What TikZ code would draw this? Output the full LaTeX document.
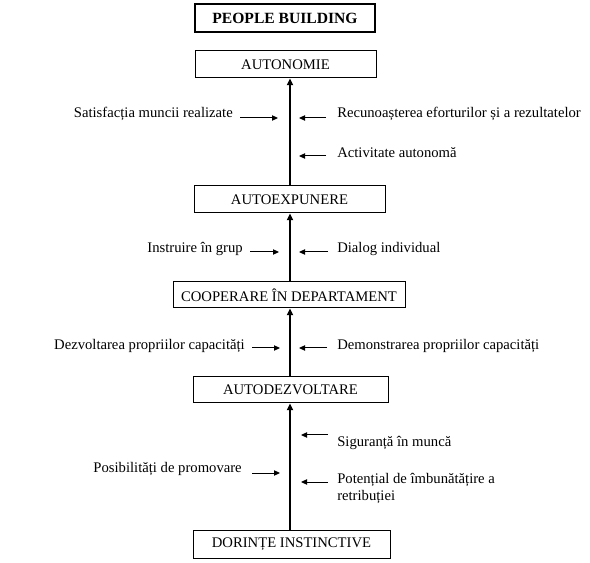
\documentclass[tikz,border=0pt]{standalone}
\usepackage{fontspec}
\setmainfont{Liberation Serif}
\usetikzlibrary{arrows.meta}
\begin{document}
\begin{tikzpicture}[x=0.75pt,y=-0.75pt,
  box/.style={draw, line width=0.75pt, inner sep=0pt, font=\fontsize{11}{13}\selectfont},
  titlebox/.style={draw, line width=1.5pt, inner sep=0pt, font=\bfseries\fontsize{11.7}{13}\selectfont},
  lbl/.style={inner sep=0pt, font=\fontsize{11}{13}\selectfont},
  mainarrow/.style={line width=1.6pt, -{Triangle[length=5pt,width=4.5pt]}},
  smallarrow/.style={line width=0.75pt, -{Triangle[length=4.5pt,width=4pt]}}]
\useasboundingbox (0,0) rectangle (590,563);

% boxes
\node[titlebox, minimum width=180*0.75pt, minimum height=28*0.75pt] (title) at (285,18) {PEOPLE BUILDING};
\node[box, minimum width=181*0.75pt, minimum height=27*0.75pt] (aut) at (285.5,64.5) {AUTONOMIE};
\node[box, minimum width=191*0.75pt, minimum height=27*0.75pt] (aexp) at (289.5,199.5) {AUTOEXPUNERE};
\node[box, minimum width=232*0.75pt, minimum height=26*0.75pt] (coop) at (289,295) {COOPERARE ÎN DEPARTAMENT};
\node[box, minimum width=195*0.75pt, minimum height=26*0.75pt] (adz) at (290.5,390) {AUTODEZVOLTARE};
\node[box, minimum width=197*0.75pt, minimum height=28*0.75pt] (dor) at (291.5,544) {DORINȚE INSTINCTIVE};

% main axis
\coordinate (lx) at (290,0);
\draw[mainarrow] (dor.north -| lx) -- (adz.south -| lx);
\draw[mainarrow] (adz.north -| lx) -- (coop.south -| lx);
\draw[mainarrow] (coop.north -| lx) -- (aexp.south -| lx);
\draw[mainarrow] (aexp.north -| lx) -- (aut.south -| lx);

% labels
\node[lbl, anchor=base east] (l1) at (233,118) {Satisfacția muncii realizate};
\node[lbl, anchor=base west] (r1) at (337,118) {Recunoașterea eforturilor și a rezultatelor};
\node[lbl, anchor=base west] (r2) at (337,158) {Activitate autonomă};
\node[lbl, anchor=base east] (l2) at (243,253) {Instruire în grup};
\node[lbl, anchor=base west] (r3) at (337,253) {Dialog individual};
\node[lbl, anchor=base east] (l3) at (245,350) {Dezvoltarea propriilor capacități};
\node[lbl, anchor=base west] (r4) at (337,350) {Demonstrarea propriilor capacități};
\node[lbl, anchor=base west] (r5) at (337,446) {Siguranță în muncă};
\node[lbl, anchor=base east] (l4) at (242,473) {Posibilități de promovare};
\node[lbl, anchor=west, align=left, font=\fontsize{11}{12.75}\selectfont] (r6) at (337,488) {Potențial de îmbunătățire a\\retribuției};

% small arrows
\coordinate (a1s) at (240,118); \coordinate (a1e) at (278,118);
\coordinate (b1s) at (326,118); \coordinate (b1e) at (299,118);
\coordinate (b2s) at (326,156); \coordinate (b2e) at (299,156);
\coordinate (a2s) at (250,252); \coordinate (a2e) at (279,252);
\coordinate (b3s) at (328,252); \coordinate (b3e) at (299,252);
\coordinate (a3s) at (252,348); \coordinate (a3e) at (280,348);
\coordinate (b4s) at (327,348); \coordinate (b4e) at (299,348);
\coordinate (b5s) at (328,435); \coordinate (b5e) at (301,435);
\coordinate (a4s) at (252,473); \coordinate (a4e) at (280,473);
\coordinate (b6s) at (328,482); \coordinate (b6e) at (301,482);
\foreach \s/\e in {a1s/a1e,b1s/b1e,b2s/b2e,a2s/a2e,b3s/b3e,a3s/a3e,b4s/b4e,b5s/b5e,a4s/a4e,b6s/b6e}
  \draw[smallarrow] (\s) -- (\e);
\end{tikzpicture}
\end{document}
